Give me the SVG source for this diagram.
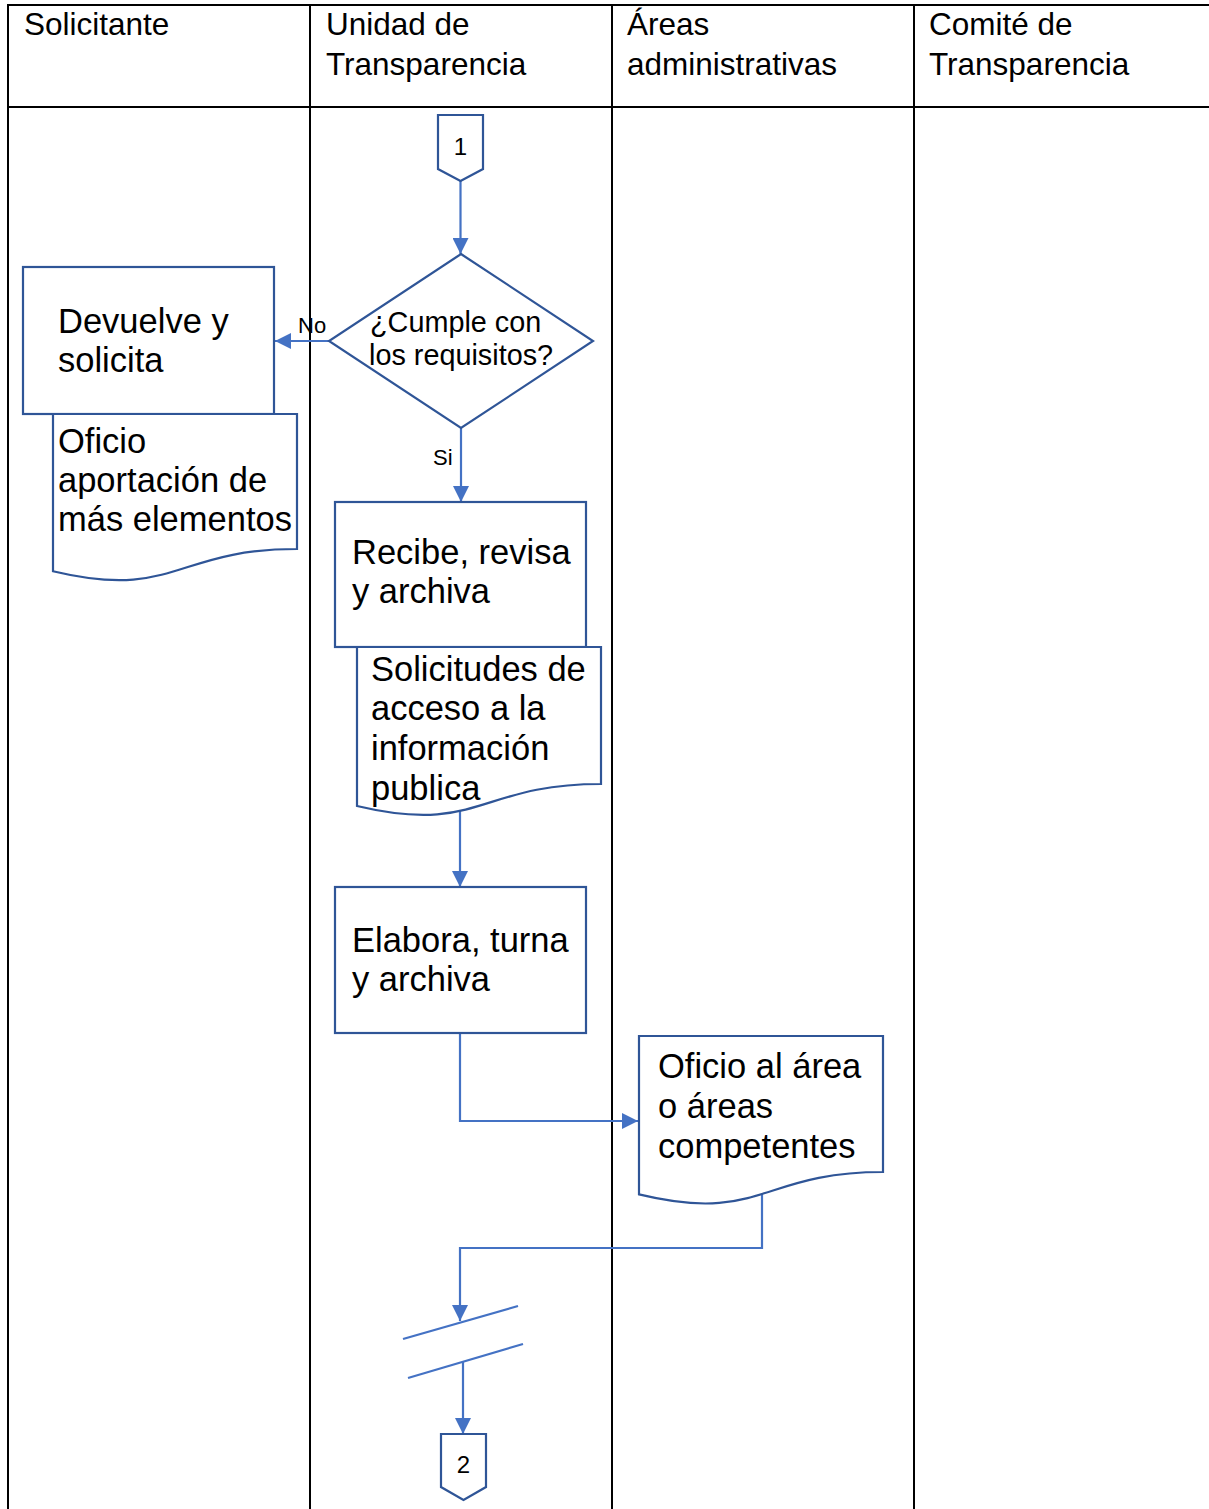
<svg xmlns="http://www.w3.org/2000/svg" width="1209" height="1509" viewBox="0 0 1209 1509">
<style>
.grid{stroke:#000;stroke-width:2;fill:none}
.shape{fill:#fff;stroke:#2F5597;stroke-width:2.2}
.conn{fill:none;stroke:#4472C4;stroke-width:2.2}
text{font-family:"Liberation Sans",Arial,sans-serif;fill:#000}
.hd{font-size:31.5px}
.bx{font-size:34.5px}
.dc{font-size:28.8px}
.lb{font-size:22px}
.cn{font-size:24px;text-anchor:middle}
</style>
<defs>
<marker id="arr" markerUnits="userSpaceOnUse" markerWidth="16" markerHeight="16" refX="16" refY="8" orient="auto">
<path d="M0,0 L16,8 L0,16 Z" fill="#4472C4"/>
</marker>
</defs>
<rect width="1209" height="1509" fill="#fff"/>
<g id="table">
<line class="grid" x1="7" y1="5" x2="1209" y2="5"/>
<line class="grid" x1="7" y1="107" x2="1209" y2="107"/>
<line class="grid" x1="8" y1="4" x2="8" y2="1509"/>
<line class="grid" x1="310" y1="4" x2="310" y2="1509"/>
<line class="grid" x1="612" y1="4" x2="612" y2="1509"/>
<line class="grid" x1="914" y1="4" x2="914" y2="1509"/>
<text class="hd" x="24" y="35">Solicitante</text>
<text class="hd" x="326" y="35">Unidad de</text>
<text class="hd" x="326" y="75">Transparencia</text>
<text class="hd" x="627" y="35">Áreas</text>
<text class="hd" x="627" y="75">administrativas</text>
<text class="hd" x="929" y="35">Comité de</text>
<text class="hd" x="929" y="75">Transparencia</text>
</g>
<g id="connectors">
<line class="conn" x1="460.5" y1="181" x2="460.5" y2="254" marker-end="url(#arr)"/>
<line class="conn" x1="329" y1="341" x2="275" y2="341" marker-end="url(#arr)"/>
<line class="conn" x1="461" y1="428" x2="461" y2="502" marker-end="url(#arr)"/>
<line class="conn" x1="460" y1="810" x2="460" y2="887" marker-end="url(#arr)"/>
<polyline class="conn" points="460,1033 460,1121 638,1121" marker-end="url(#arr)"/>
<polyline class="conn" points="762,1194 762,1248 460,1248 460,1321" marker-end="url(#arr)"/>
<line class="conn" x1="403" y1="1339" x2="518" y2="1306"/>
<line class="conn" x1="408" y1="1378" x2="523" y2="1344"/>
<line class="conn" x1="463" y1="1362" x2="463" y2="1434" marker-end="url(#arr)"/>
</g>
<g id="start1">
<polygon class="shape" points="438,115 483,115 483,169 460.5,181 438,169"/>
<text class="cn" x="460.5" y="155">1</text>
</g>
<g id="decision">
<polygon class="shape" points="461,254 593,341 461,428 329,341"/>
<text class="dc" x="370" y="332">¿Cumple con</text>
<text class="dc" x="369" y="365">los requisitos?</text>
<text class="lb" x="298" y="333">No</text>
<text class="lb" x="433" y="465">Si</text>
</g>
<g id="devuelve">
<rect class="shape" x="23" y="267" width="251" height="147"/>
<text class="bx" x="58" y="333">Devuelve y</text>
<text class="bx" x="58" y="372">solicita</text>
</g>
<g id="oficio-aportacion">
<path class="shape" d="M53,414 H297 V549 C175,549 175,600.4 53,571.2 Z"/>
<text class="bx" x="58" y="453">Oficio</text>
<text class="bx" x="58" y="492">aportación de</text>
<text class="bx" x="58" y="531">más elementos</text>
</g>
<g id="recibe">
<rect class="shape" x="335" y="502" width="251" height="145"/>
<text class="bx" x="352" y="564">Recibe, revisa</text>
<text class="bx" x="352" y="603">y archiva</text>
</g>
<g id="solicitudes">
<path class="shape" d="M357,647 H601 V784 C479,784 479,835 357,806 Z"/>
<text class="bx" x="371" y="681">Solicitudes de</text>
<text class="bx" x="371" y="720">acceso a la</text>
<text class="bx" x="371" y="760">información</text>
<text class="bx" x="371" y="800">publica</text>
</g>
<g id="elabora">
<rect class="shape" x="335" y="887" width="251" height="146"/>
<text class="bx" x="352" y="952">Elabora, turna</text>
<text class="bx" x="352" y="991">y archiva</text>
</g>
<g id="oficio-area">
<path class="shape" d="M639,1036 H883 V1172 C761,1172 761,1224 639,1194.4 Z"/>
<text class="bx" x="658" y="1078">Oficio al área</text>
<text class="bx" x="658" y="1118">o áreas</text>
<text class="bx" x="658" y="1158">competentes</text>
</g>
<g id="end2">
<polygon class="shape" points="441,1434 486,1434 486,1487 463.5,1500 441,1487"/>
<text class="cn" x="463.5" y="1473">2</text>
</g>
</svg>
